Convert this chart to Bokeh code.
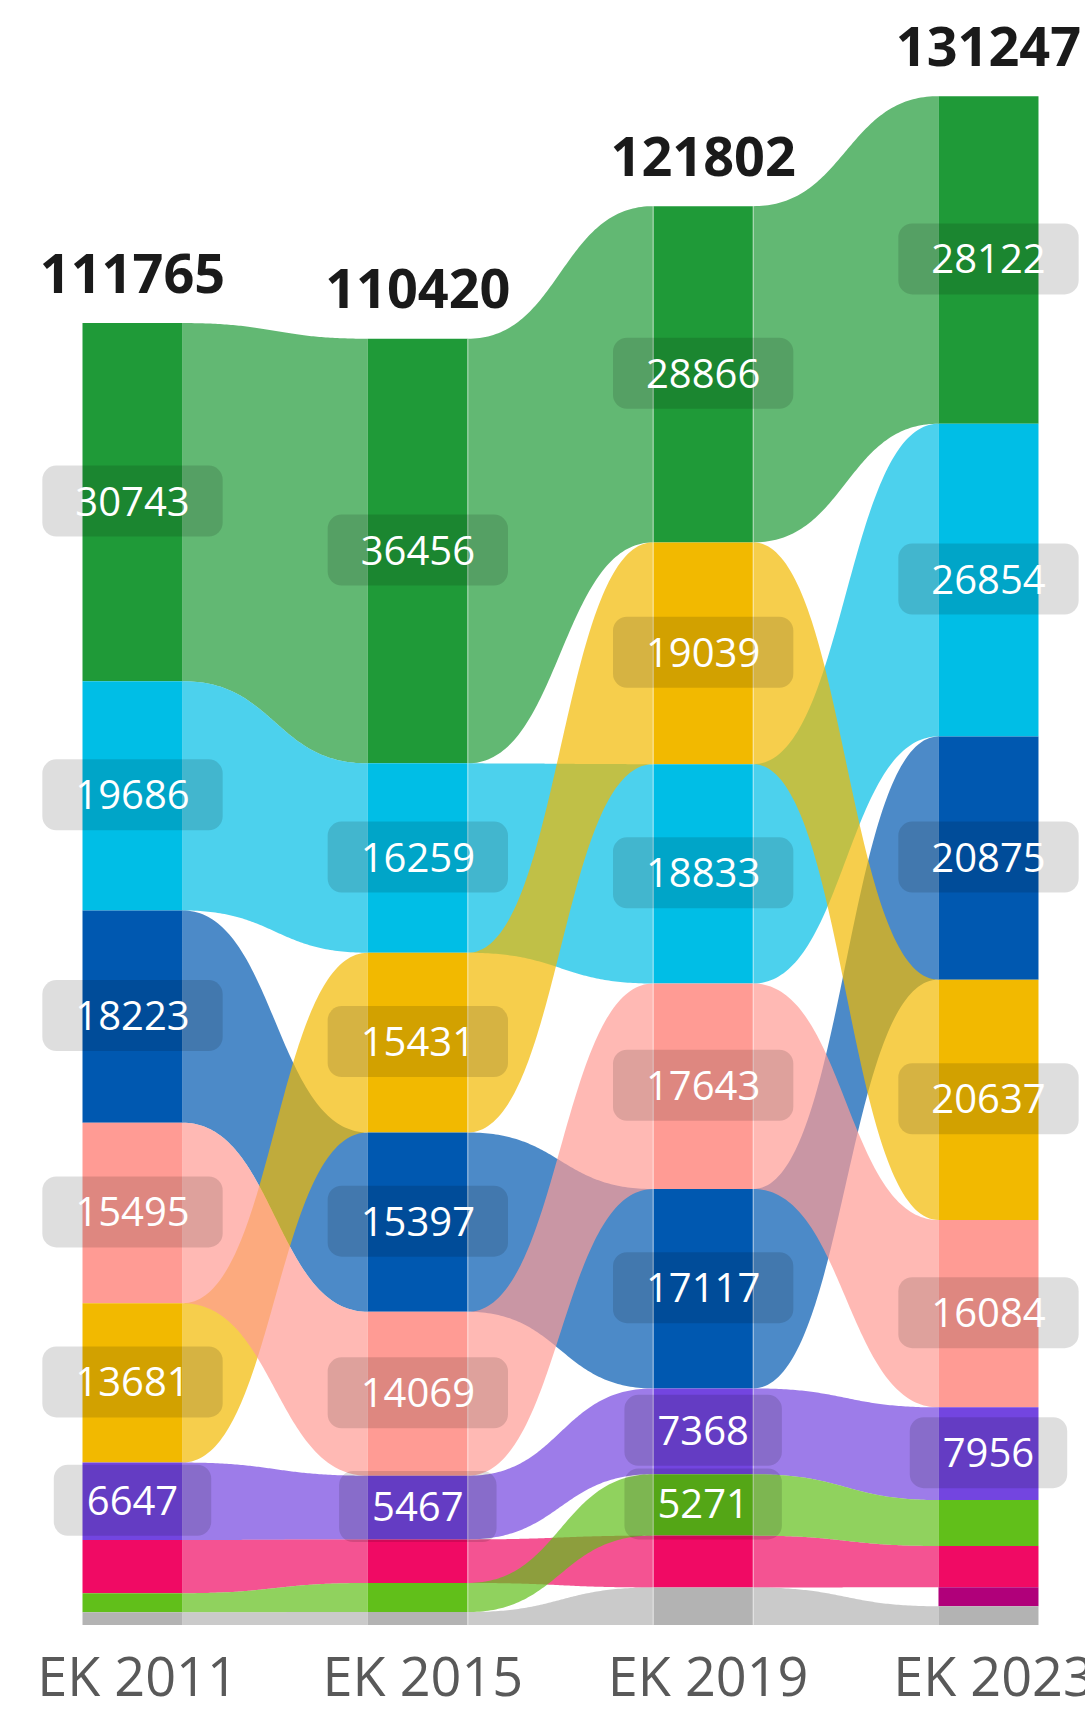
import numpy as np
from bokeh.plotting import figure
from bokeh.models import ColumnDataSource, Range1d
from bokeh.embed import file_html
from bokeh.resources import INLINE
from bokeh.core.properties import value

# ---------------- data ----------------
elections = ["EK 2011", "EK 2015", "EK 2019", "EK 2023"]
parties = ["p_green", "p_cyan", "p_blue", "p_gold", "p_salmon", "p_purple",
           "p_red", "p_lightgreen", "p_magenta", "p_others"]
party_colors = ["#1f9a38", "#00bee6", "#0058b0", "#f2b900", "#ff9b94", "#7345e0",
                "#f00a64", "#61bf1a", "#b0007a", "#b3b3b3"]
others_party = "p_others"
votes_2011 = [30743, 19686, 18223, 13681, 15495, 6647, 4570, 1630, 0, 1090]
votes_2015 = [36456, 16259, 15397, 15431, 14069, 5467, 3740, 2500, 0, 1101]
votes_2019 = [28866, 18833, 17117, 19039, 17643, 7368, 4450, 5271, 0, 3215]
votes_2023 = [28122, 26854, 20875, 20637, 16084, 7956, 3545, 3945, 1630, 1599]
label_min_votes = 5000

columns = [votes_2011, votes_2015, votes_2019, votes_2023]

# ---------------- layout ----------------
W, H = 1085, 1710
PX_PER_COL = 285.33
COL0_PX = 132.0
PX_PER_VOTE = 0.011648
BASE_PX = 1624.4
BAR_PX = 100.0

x_start = -COL0_PX / PX_PER_COL
x_end = x_start + W / PX_PER_COL
y_start = -(H - BASE_PX) / PX_PER_VOTE
y_end = y_start + H / PX_PER_VOTE
hw = BAR_PX / PX_PER_COL / 2.0

n = len(parties)
oi = parties.index(others_party)

# stacking per column: largest on top, others at the bottom
stacks = []
totals = []
for vals in columns:
    present = [i for i in range(n) if vals[i] > 0 and i != oi]
    order = sorted(present, key=lambda i: -vals[i]) + [oi]
    total = sum(vals)
    totals.append(total)
    top = total
    d = {}
    for i in order:
        d[i] = (top - vals[i], top)
        top -= vals[i]
    stacks.append(d)

p = figure(width=W, height=H, x_range=Range1d(x_start, x_end),
           y_range=Range1d(y_start, y_end), x_axis_location=None,
           y_axis_location=None, min_border=0, toolbar_location=None,
           output_backend="svg", title=None)
p.grid.visible = False
p.outline_line_color = None
p.background_fill_color = "white"
p.border_fill_color = "white"

# ---------------- flows ----------------
t = np.linspace(0, 1, 90)
bx = 1.5 * (1 - t) ** 2 * t + 1.5 * (1 - t) * t ** 2 + t ** 3
by = 3 * t ** 2 - 2 * t ** 3
fx, fy, fc = [], [], []
for c in range(len(columns) - 1):
    xa = c + hw
    xb = c + 1 - hw
    for i in range(n):
        if i in stacks[c] and i in stacks[c + 1]:
            b0, t0 = stacks[c][i]
            b1, t1 = stacks[c + 1][i]
            xs = xa + (xb - xa) * bx
            yt = t0 + (t1 - t0) * by
            yb = b0 + (b1 - b0) * by
            fx.append(list(np.concatenate([xs, xs[::-1]])))
            fy.append(list(np.concatenate([yt, yb[::-1]])))
            fc.append(party_colors[i])
p.patches(xs="xs", ys="ys", fill_color="color", fill_alpha=0.7, line_color=None,
          source=ColumnDataSource(dict(xs=fx, ys=fy, color=fc)))

# ---------------- bars ----------------
ql, qr, qb, qt, qc = [], [], [], [], []
for c, d in enumerate(stacks):
    for i, (b, tp) in d.items():
        ql.append(c - hw); qr.append(c + hw); qb.append(b); qt.append(tp)
        qc.append(party_colors[i])
p.quad(left="l", right="r", bottom="b", top="t", fill_color="c", line_color=None,
       source=ColumnDataSource(dict(l=ql, r=qr, b=qb, t=qt, c=qc)))

# thin light edges seen on middle columns
ex = [1 + hw, 2 - hw, 2 + hw]
ey = [totals[1], totals[2], totals[2]]
p.segment(x0=ex, y0=[0] * 3, x1=ex, y1=ey, line_color="white", line_alpha=0.6,
          line_width=1)

# ---------------- value labels ----------------
lx, ly, lt = [], [], []
for c, d in enumerate(stacks):
    for i, (b, tp) in d.items():
        v = columns[c][i]
        if v >= label_min_votes:
            lx.append(c); ly.append((b + tp) / 2.0); lt.append(str(v))
p.text(x="x", y="y", text="t", source=ColumnDataSource(dict(x=lx, y=ly, t=lt)),
       text_align="center", text_baseline="alphabetic", y_offset=-1,
       text_font=value("Open Sans"), text_font_size="40px", text_color="white",
       background_fill_color="black", background_fill_alpha=0.13,
       border_radius=14, padding=dict(left=33, right=33, top=21, bottom=21))

# ---------------- totals ----------------
cx = list(range(len(columns)))
p.text(x=cx, y=totals, text=[str(v) for v in totals], text_align="center",
       text_baseline="alphabetic", y_offset=-50, text_font=value("Open Sans"),
       text_font_style="bold", text_font_size="54px", text_color="#1a1a1a")

# ---------------- category labels ----------------
p.text(x=cx, y=[0] * len(cx), text=elections, text_align="center",
       text_baseline="alphabetic", y_offset=50, x_offset=5,
       text_font=value("Open Sans"), text_font_size="54px", text_color="#595959")

open("out.html", "w").write(file_html(p, INLINE))
